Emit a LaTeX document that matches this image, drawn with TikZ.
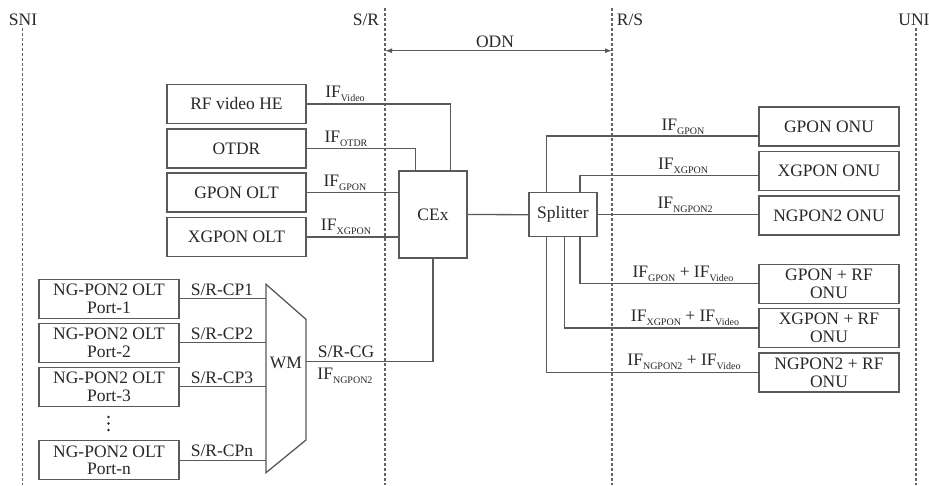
\documentclass[tikz,border=0pt]{standalone}
\usepackage{fontspec}
\setmainfont{Liberation Serif}
\usetikzlibrary{arrows.meta}
\definecolor{txt}{RGB}{40,40,40}
\definecolor{ln}{RGB}{90,90,90}
\definecolor{dsh}{RGB}{100,100,100}
\newcommand\ifsub[1]{IF\raisebox{-0.45ex}{\fontsize{10}{10}\selectfont #1}}
\begin{document}
\begin{tikzpicture}[x=1pt,y=-1pt,
  every node/.style={text=txt, font=\fontsize{17.5}{17.8}\selectfont, inner sep=0pt},
  box/.style={draw=ln, line width=1.3pt, minimum width=140, minimum height=39, align=center},
  conn/.style={draw=ln, line width=1.3pt},
  border/.style={draw=dsh, line width=1.3pt, dash pattern=on 3pt off 2pt},
  lbl/.style={font=\fontsize{17.5}{17.5}\selectfont},
  dot/.style={fill=txt, circle, minimum size=2.8, inner sep=0pt}]
\useasboundingbox (0,0) rectangle (929,485);
\fill[white] (0,0) rectangle (929,485);

% reference lines
\node[lbl] (sni) at (23,20) {SNI};
\node[lbl] (sr) at (366,20) {S/R};
\node[lbl] (rs) at (630,20) {R/S};
\node[lbl] (uni) at (914,20) {UNI};
\coordinate (sniT) at (22.7,28); \coordinate (sniB) at (22.7,485);
\coordinate (srT) at (385,8); \coordinate (srB) at (385,485);
\coordinate (rsT) at (612,8); \coordinate (rsB) at (612,485);
\coordinate (uniT) at (916,28); \coordinate (uniB) at (916,485);
\draw[border] (sniT) -- (sniB);
\draw[border] (srT) -- (srB);
\draw[border] (rsT) -- (rsB);
\draw[border] (uniT) -- (uniB);

% ODN
\coordinate (odnL) at (385,50.7); \coordinate (odnR) at (612,50.7);
\draw[conn, line width=1.1pt, {Latex[length=7pt,width=5pt]}-{Latex[length=7pt,width=5pt]}] (odnL) -- (odnR);
\node[lbl] (odn) at (495,42) {ODN};

% left boxes
\node[box, minimum width=139] (rf) at (236.5,104) {RF video HE};
\node[box, minimum width=139] (otdr) at (236.5,148.5) {OTDR};
\node[box, minimum width=139] (golt) at (236.5,192.5) {GPON OLT};
\node[box, minimum width=139] (xolt) at (236.5,237) {XGPON OLT};

% CEx and splitter
\node[box, minimum width=68, minimum height=87] (cex) at (433,214.5) {CEx};
\node[box, minimum width=68, minimum height=44] (spl) at (563,214.7) {Splitter};

% ONUs
\node[box] (gonu) at (829,126.5) {GPON ONU};
\node[box] (xonu) at (829,171.2) {XGPON ONU};
\node[box] (nonu) at (829,215.5) {NGPON2 ONU};
\node[box] (grf) at (829,283.8) {GPON + RF\\ONU};
\node[box] (xrf) at (829,328) {XGPON + RF\\ONU};
\node[box] (nrf) at (829,372.5) {NGPON2 + RF\\ONU};

% NG-PON2 OLT ports
\node[box] (p1) at (109,298.7) {NG-PON2 OLT\\Port-1};
\node[box] (p2) at (109,342.8) {NG-PON2 OLT\\Port-2};
\node[box] (p3) at (109,386.7) {NG-PON2 OLT\\Port-3};
\node[box] (pn) at (109,460.3) {NG-PON2 OLT\\Port-n};
\node[dot] (d1) at (108.5,417) {};
\node[dot] (d2) at (108.5,423.5) {};
\node[dot] (d3) at (108.5,430) {};

% WM
\draw[conn] (266,284.3) -- (306,319.3) -- (306,440) -- (266,472.7) -- cycle;
\node (wm) at (286,362.7) {WM};
\coordinate (wm1) at (266,298.7);
\coordinate (wm2) at (266,342.8);
\coordinate (wm3) at (266,386.7);
\coordinate (wmn) at (266,460.3);
\coordinate (wmo) at (306,361.7);
\draw[conn] (p1.east) -- (wm1);
\draw[conn] (p2.east) -- (wm2);
\draw[conn] (p3.east) -- (wm3);
\draw[conn] (pn.east) -- (wmn);
\node (cp1) at (222,290) {S/R-CP1};
\node (cp2) at (222,333.3) {S/R-CP2};
\node (cp3) at (222,377.3) {S/R-CP3};
\node (cpn) at (222,451) {S/R-CPn};

% WM to CEx
\draw[conn] (wmo) -| (cex.south);
\node (cg) at (346,351.7) {S/R-CG};
\node (ifng) at (345,376) {\ifsub{NGPON2}};

% left connectors to CEx
\coordinate (cexV) at (450.7,171);
\coordinate (cexO) at (415.7,171);
\draw[conn] (rf.east) -| (cexV);
\draw[conn] (otdr.east) -| (cexO);
\draw[conn] (golt.east) -- (golt.east -| cex.west);
\draw[conn] (xolt.east) -- (xolt.east -| cex.west);
\node (lv) at (345,94) {\ifsub{Video}};
\node (lo) at (346,139) {\ifsub{OTDR}};
\node (lg) at (345,183) {\ifsub{GPON}};
\node (lx) at (346,227) {\ifsub{XGPON}};

% CEx to splitter
\draw[conn] (cex.east) -- (spl.west);

% splitter to ONUs
\coordinate (st1) at (546.7,192.7);
\coordinate (st2) at (580,192.7);
\coordinate (sb1) at (546.7,236.7);
\coordinate (sb2) at (564.3,236.7);
\coordinate (sb3) at (580,236.7);
\coordinate (g1) at (759,136);
\coordinate (x1) at (759,175.7);
\draw[conn] (st1) |- (g1);
\draw[conn] (st2) |- (x1);
\draw[conn] (spl.east) -- (spl.east -| nonu.west);
\draw[conn] (sb3) |- (grf.west);
\draw[conn] (sb2) |- (xrf.west);
\draw[conn] (sb1) |- (nrf.west);
\node (rg) at (683,127) {\ifsub{GPON}};
\node (rx) at (683,166) {\ifsub{XGPON}};
\node (rn) at (685,205) {\ifsub{NGPON2}};
\node (rgv) at (683,274) {\ifsub{GPON} + \ifsub{Video}};
\node (rxv) at (685,318) {\ifsub{XGPON} + \ifsub{Video}};
\node (rnv) at (684,361.7) {\ifsub{NGPON2} + \ifsub{Video}};
\end{tikzpicture}
\end{document}
